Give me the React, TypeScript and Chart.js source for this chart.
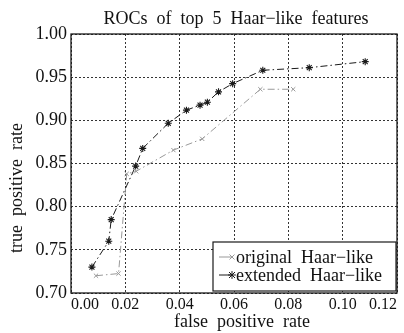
import React, { useEffect, useRef } from "react";
import { Chart, registerables } from "chart.js";

Chart.register(...registerables);

const chartTitle = "ROCs  of  top  5  Haar\u2212like  features";
const xAxisTitle = "false  positive  rate";
const yAxisTitle = "true  positive  rate";

const seriesNames = ["original  Haar\u2212like", "extended  Haar\u2212like"];

const origX = [0.0092, 0.0175, 0.0205, 0.024, 0.0377, 0.0483, 0.0697, 0.0818];
const origY = [0.72, 0.7225, 0.838, 0.841, 0.8655, 0.8785, 0.936, 0.936];

const extX = [0.0077, 0.0139, 0.0148, 0.0238, 0.0264, 0.0358, 0.0425, 0.0475, 0.0502, 0.0543, 0.0595, 0.0706, 0.0877, 0.1083];
const extY = [0.73, 0.76, 0.785, 0.847, 0.8675, 0.8966, 0.9118, 0.9176, 0.921, 0.933, 0.9425, 0.958, 0.961, 0.968];

const FONT = "'Liberation Serif', 'DejaVu Serif', serif";

function drawMarker(ctx: CanvasRenderingContext2D, style: string, x: number, y: number, r: number) {
  ctx.beginPath();
  ctx.moveTo(x - r, y - r); ctx.lineTo(x + r, y + r);
  ctx.moveTo(x + r, y - r); ctx.lineTo(x - r, y + r);
  if (style === "star") {
    ctx.moveTo(x, y - r * 1.3); ctx.lineTo(x, y + r * 1.3);
    ctx.moveTo(x - r * 1.3, y); ctx.lineTo(x + r * 1.3, y);
  }
  ctx.stroke();
}

const framePlugin = {
  id: "frameLegend",
  afterDraw(chart: any) {
    const { ctx, chartArea: a } = chart;
    ctx.save();
    ctx.setLineDash([]);
    ctx.strokeStyle = "#1a1a1a";
    ctx.lineWidth = 1.3;
    ctx.strokeRect(a.left, a.top, a.right - a.left, a.bottom - a.top);

    // titles
    ctx.fillStyle = "#111";
    ctx.font = `18px ${FONT}`;
    ctx.textAlign = "center";
    ctx.textBaseline = "middle";
    ctx.fillText(chartTitle, (a.left + a.right) / 2 + 2, 19);
    ctx.fillText(xAxisTitle, (a.left + a.right) / 2 + 8, 322);
    ctx.save();
    ctx.translate(17, 188);
    ctx.rotate(-Math.PI / 2);
    ctx.fillText(yAxisTitle, 0, 0);
    ctx.restore();

    // legend
    const w = 183, h = 49;
    const x0 = a.right - w - 1, y0 = a.bottom - h - 2;
    ctx.fillStyle = "#ffffff";
    ctx.fillRect(x0, y0, w, h);
    ctx.lineWidth = 1.2;
    ctx.strokeStyle = "#1a1a1a";
    ctx.strokeRect(x0, y0, w, h);

    chart.data.datasets.forEach((ds: any, i: number) => {
      const y = y0 + 15 + i * 18;
      ctx.strokeStyle = ds.borderColor;
      ctx.lineWidth = 1;
      ctx.beginPath();
      ctx.moveTo(x0 + 6, y);
      ctx.lineTo(x0 + 20, y);
      ctx.stroke();
      drawMarker(ctx, ds.pointStyle, x0 + 19, y, ds.pointStyle === "star" ? 3 : 2.5);
      ctx.fillStyle = "#111";
      ctx.font = `18px ${FONT}`;
      ctx.textBaseline = "middle";
      ctx.textAlign = "left";
      ctx.fillText(ds.label, x0 + 23, y + 1);
    });
    ctx.restore();
  },
};

export default function App() {
  const ref = useRef<HTMLCanvasElement>(null);

  useEffect(() => {
    if (!ref.current) return;
    const toPts = (xs: number[], ys: number[]) => xs.map((x, i) => ({ x, y: ys[i] }));
    const chart = new Chart(ref.current, {
      type: "scatter",
      data: {
        datasets: [
          {
            label: seriesNames[0],
            data: toPts(origX, origY),
            showLine: true,
            borderColor: "#999999",
            backgroundColor: "#999999",
            borderWidth: 1,
            borderDash: [7, 3, 1.5, 3],
            pointStyle: "crossRot",
            pointRadius: 3,
            pointBorderWidth: 1,
            pointBorderColor: "#999999",
          },
          {
            label: seriesNames[1],
            data: toPts(extX, extY),
            showLine: true,
            borderColor: "#1a1a1a",
            backgroundColor: "#1a1a1a",
            borderWidth: 1,
            borderDash: [7, 3, 1.5, 3],
            pointStyle: "star",
            pointRadius: 3.5,
            pointBorderWidth: 1.1,
            pointBorderColor: "#1a1a1a",
          },
        ],
      },
      options: {
        animation: false,
        responsive: false,
        layout: { padding: { left: 0, right: 7, top: 34, bottom: 0 } },
        plugins: {
          legend: { display: false },
          tooltip: { enabled: false },
          title: { display: false },
        },
        scales: {
          x: {
            type: "linear",
            min: 0,
            max: 0.12,
            afterFit: (s: any) => { s.height = 40; s.paddingLeft = 0; s.paddingRight = 0; },
            ticks: {
              stepSize: 0.02,
              color: "#111",
              font: { family: FONT, size: 16 },
              padding: 2,
              maxRotation: 0,
              autoSkip: false,
              align: "inner",
              callback: (v: any) => Number(v).toFixed(2),
            },
            grid: { color: "#333", lineWidth: 1, drawTicks: false },
            border: { display: false, dash: [2, 2] },
          },
          y: {
            type: "linear",
            min: 0.7,
            max: 1.0,
            afterFit: (s: any) => { s.width = 71; s.paddingTop = 0; s.paddingBottom = 0; },
            ticks: {
              stepSize: 0.05,
              color: "#111",
              font: { family: FONT, size: 18 },
              padding: 4,
              autoSkip: false,
              callback: (v: any) => Number(v).toFixed(2),
            },
            grid: { color: "#333", lineWidth: 1, drawTicks: false },
            border: { display: false, dash: [2, 2] },
          },
        },
      },
      plugins: [framePlugin],
    } as any);
    return () => chart.destroy();
  }, []);

  return (
    <div style={{ position: "fixed", left: 0, top: 0, width: 404, height: 333, background: "#fff" }}>
      <canvas ref={ref} width={404} height={333} style={{ width: 404, height: 333 }} />
    </div>
  );
}
